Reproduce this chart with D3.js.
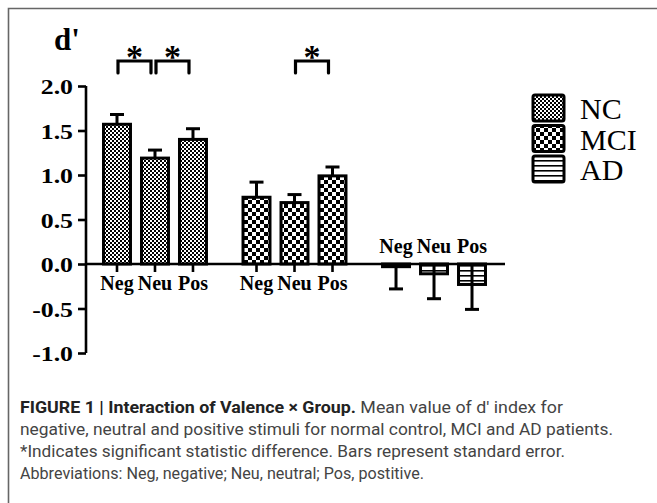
<!DOCTYPE html>
<html>
<head>
<meta charset="utf-8">
<script src="https://cdn.jsdelivr.net/npm/d3@7"></script>
<style>
  html, body { margin: 0; padding: 0; background: #fff; }
  svg { display: block; }
</style>
</head>
<body>
<svg id="fig" width="657" height="503"></svg>
<script>
// d' by valence for each diagnostic group (mean and standard error)
const groups = ["NC", "MCI", "AD"];
const valences = ["Neg", "Neu", "Pos"];
const ncMeans = [1.57, 1.19, 1.40];
const ncSE = [0.11, 0.09, 0.12];
const mciMeans = [0.75, 0.69, 0.99];
const mciSE = [0.17, 0.09, 0.10];
const adMeans = [-0.03, -0.11, -0.23];
const adSE = [0.25, 0.28, 0.28];
const yTicks = [-1.0, -0.5, 0.0, 0.5, 1.0, 1.5, 2.0];
const yTickLabels = ["-1.0", "-0.5", "0.0", "0.5", "1.0", "1.5", "2.0"];
// pairs marked as significantly different
const sigPairs = [
  { group: "NC", from: "Neg", to: "Neu" },
  { group: "NC", from: "Neu", to: "Pos" },
  { group: "MCI", from: "Neu", to: "Pos" }
];
const captionLines = [
  [{ t: "FIGURE 1 | Interaction of Valence \u00d7 Group.", b: true }, { t: " Mean value of d\u2032 index for", b: false }],
  [{ t: "negative, neutral and positive stimuli for normal control, MCI and AD patients.", b: false }],
  [{ t: "*Indicates significant statistic difference. Bars represent standard error.", b: false }],
  [{ t: "Abbreviations: Neg, negative; Neu, neutral; Pos, postitive.", b: false }]
];
// set length of each caption line
const captionWidths = [543, 593, 545, 404];

const meansBy = { NC: ncMeans, MCI: mciMeans, AD: adMeans };
const seBy = { NC: ncSE, MCI: mciSE, AD: adSE };
const rows = [];
groups.forEach(g => valences.forEach((v, i) => rows.push({ group: g, valence: v, mean: meansBy[g][i], se: seBy[g][i] })));

const svg = d3.select("#fig");
const serif = "'Liberation Serif', 'Times New Roman', serif";

// patterns: fine checks, coarse checks, horizontal stripes
const defs = svg.append("defs");
function checker(id, s) {
  const p = defs.append("pattern").attr("id", id).attr("patternUnits", "userSpaceOnUse")
    .attr("width", 2 * s).attr("height", 2 * s);
  p.append("rect").attr("width", 2 * s).attr("height", 2 * s).attr("fill", "#fff");
  p.append("rect").attr("width", s).attr("height", s).attr("fill", "#000");
  p.append("rect").attr("x", s).attr("y", s).attr("width", s).attr("height", s).attr("fill", "#000");
}
checker("pat-NC", 2);
checker("pat-MCI", 4);
const stripes = defs.append("pattern").attr("id", "pat-AD").attr("patternUnits", "userSpaceOnUse")
  .attr("width", 8).attr("height", 5);
stripes.append("rect").attr("width", 8).attr("height", 5).attr("fill", "#fff");
stripes.append("rect").attr("y", 0).attr("width", 8).attr("height", 1.6).attr("fill", "#000");

// frame
svg.append("path").attr("d", "M8.5,503 V8.5 H657").attr("fill", "none")
  .attr("stroke", "#666").attr("stroke-width", 1.6);

// scales
const y = d3.scaleLinear().domain([-1, 2]).range([353, 86]);
const x0 = d3.scaleBand().domain(groups).range([98, 491]).paddingInner(0.183).paddingOuter(0);
const x1 = d3.scaleBand().domain(valences).range([0, x0.bandwidth()]).paddingInner(0.29).paddingOuter(0.145);
const cx = d => x0(d.group) + x1(d.valence) + x1.bandwidth() / 2;
const axisX = 86;

// y axis
const yAxis = svg.append("g").attr("transform", `translate(${axisX},0)`)
  .call(d3.axisLeft(y).tickValues(yTicks).tickSize(8).tickPadding(0).tickFormat((d, i) => yTickLabels[i]));
yAxis.select(".domain").attr("stroke", "#000").attr("stroke-width", 2.6).attr("d", `M0,${y(2)}V${y(-1)}`);
yAxis.selectAll(".tick line").attr("stroke", "#000").attr("stroke-width", 2.6);
yAxis.selectAll(".tick text").remove();
yAxis.selectAll(".tick").append("text")
  .attr("transform", "translate(-13,7.5) scale(1.2,1)")
  .attr("text-anchor", "end")
  .attr("font-family", serif).attr("font-weight", "bold").attr("font-size", 21.5).attr("fill", "#000")
  .text((d, i) => yTickLabels[i]);

// y axis title
svg.append("text").attr("x", 54).attr("y", 50).attr("font-family", serif).attr("font-weight", "bold")
  .attr("font-size", 31).attr("fill", "#000").text("d'");

// bars
svg.append("g").selectAll("rect").data(rows).join("rect")
  .attr("x", d => x0(d.group) + x1(d.valence))
  .attr("width", x1.bandwidth())
  .attr("y", d => y(Math.max(0, d.mean)))
  .attr("height", d => Math.abs(y(d.mean) - y(0)))
  .attr("fill", d => `url(#pat-${d.group})`)
  .attr("stroke", "#000").attr("stroke-width", 3);

// error bars: outward from the bar end
const capW = 14;
const eb = svg.append("g").attr("stroke", "#000").attr("stroke-width", 3).attr("fill", "none");
eb.selectAll("line.v").data(rows).join("line").attr("class", "v")
  .attr("x1", cx).attr("x2", cx)
  .attr("y1", d => d.mean < 0 ? y(0) : y(d.mean))
  .attr("y2", d => d.mean < 0 ? y(d.mean - d.se) : y(d.mean + d.se));
eb.selectAll("line.c").data(rows).join("line").attr("class", "c")
  .attr("x1", d => cx(d) - capW / 2).attr("x2", d => cx(d) + capW / 2)
  .attr("y1", d => d.mean < 0 ? y(d.mean - d.se) : y(d.mean + d.se))
  .attr("y2", d => d.mean < 0 ? y(d.mean - d.se) : y(d.mean + d.se));

// x axis at zero
svg.append("line").attr("x1", axisX).attr("x2", 505).attr("y1", y(0)).attr("y2", y(0))
  .attr("stroke", "#000").attr("stroke-width", 2.6);

// category ticks and labels
svg.append("g").selectAll("line").data(rows.filter(d => d.group !== "AD")).join("line")
  .attr("x1", cx).attr("x2", cx).attr("y1", y(0)).attr("y2", y(0) + 8)
  .attr("stroke", "#000").attr("stroke-width", 2.6);
svg.append("g").selectAll("text").data(rows).join("text")
  .attr("x", cx)
  .attr("y", d => d.group === "AD" ? y(0) - 11 : y(0) + 26)
  .attr("text-anchor", "middle")
  .attr("font-family", serif).attr("font-weight", "bold").attr("font-size", 20).attr("fill", "#000")
  .text(d => d.valence);

// significance brackets
const xOf = (g, v) => x0(g) + x1(v) + x1.bandwidth() / 2;
const br = svg.append("g");
sigPairs.forEach(p => {
  const a = xOf(p.group, p.from) + 1, b = xOf(p.group, p.to) - 4;
  br.append("path").attr("d", `M${a},73 V61 H${b} V73`).attr("fill", "none")
    .attr("stroke", "#000").attr("stroke-width", 3.2).attr("stroke-linecap", "round");
  br.append("text").attr("x", (a + b) / 2).attr("y", 68).attr("text-anchor", "middle")
    .attr("font-family", serif).attr("font-weight", "bold").attr("font-size", 34).attr("fill", "#000").text("*");
});

// legend
const lg = svg.append("g");
groups.forEach((g, i) => {
  const top = 95 + i * 30.5;
  lg.append("rect").attr("x", 533).attr("y", top).attr("width", 31).attr("height", 26).attr("rx", 2)
    .attr("fill", `url(#pat-${g})`).attr("stroke", "#000").attr("stroke-width", 3);
  lg.append("text").attr("x", 580).attr("y", top + 24).attr("font-family", serif)
    .attr("font-size", 30).attr("fill", "#000").text(g);
});

// caption
const cap = svg.append("g");
captionLines.forEach((line, i) => {
  const t = cap.append("text").attr("x", 20).attr("y", 413 + i * 22)
    .attr("font-family", "Roboto, 'Liberation Sans', sans-serif").attr("font-size", 16.5)
    .attr("textLength", captionWidths[i]).attr("lengthAdjust", "spacingAndGlyphs");
  line.forEach(seg => t.append("tspan").attr("font-weight", seg.b ? "bold" : "normal")
    .attr("fill", seg.b ? "#222" : "#444").text(seg.t));
});
</script>
</body>
</html>
